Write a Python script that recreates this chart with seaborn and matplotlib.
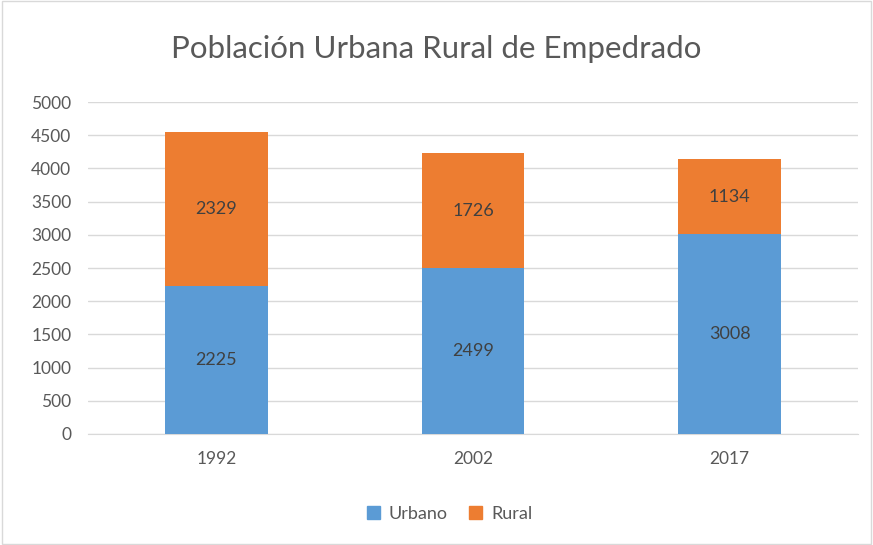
import numpy as np
import pandas as pd
import matplotlib
matplotlib.use("Agg")
import matplotlib.pyplot as plt
import seaborn as sns
from matplotlib.patches import Patch

# data
years = ["1992", "2002", "2017"]
urbano = [2225, 2499, 3008]
rural = [2329, 1726, 1134]

df = pd.DataFrame({"year": years, "Urbano": urbano, "Rural": rural})
df["total"] = df["Urbano"] + df["Rural"]

sns.set_style("white")
plt.rcParams["font.family"] = ["Lato", "DejaVu Sans"]

blue = "#5B9BD5"
orange = "#ED7D31"
txt = "#595959"

fig = plt.figure(figsize=(8.73, 5.45), dpi=100)
ax = fig.add_axes([0.1008, 0.2037, 0.882, 0.6091])

# stacked bars: total first (rural on top), urbano over it
sns.barplot(data=df, x="year", y="total", color=orange, width=0.4,
            saturation=1, linewidth=0, ax=ax, zorder=2)
sns.barplot(data=df, x="year", y="Urbano", color=blue, width=0.4,
            saturation=1, linewidth=0, ax=ax, zorder=3)

# value labels
for i in range(len(years)):
    ax.text(i, urbano[i] / 2, str(urbano[i]), ha="center", va="center",
            fontsize=13, color="#404040", zorder=4)
    ax.text(i, urbano[i] + rural[i] / 2, str(rural[i]), ha="center",
            va="center", fontsize=13, color="#404040", zorder=4)

ax.set_ylim(0, 5000)
ax.set_yticks(range(0, 5001, 500))
ax.yaxis.grid(True, color="#D9D9D9", linewidth=1, zorder=0)
ax.set_axisbelow(True)
ax.set_xlabel("")
ax.set_ylabel("")
for s in ["top", "right", "left"]:
    ax.spines[s].set_visible(False)
ax.spines["bottom"].set_color("#D9D9D9")
ax.tick_params(axis="both", labelsize=12.5, colors=txt, length=0, pad=12)
ax.tick_params(axis="x", pad=12)

fig.suptitle("Población Urbana Rural de Empedrado", y=0.935,
             fontsize=22.5, color=txt)

handles = [Patch(color=blue, label="Urbano"), Patch(color=orange, label="Rural")]
leg = fig.legend(handles=handles, loc="center", bbox_to_anchor=(0.515, 0.057),
                 ncol=2, frameon=False, fontsize=13, handlelength=0.7,
                 handleheight=0.7, columnspacing=1.2, handletextpad=0.5)
for t in leg.get_texts():
    t.set_color(txt)

# light border around chart area
fig.patches.append(plt.Rectangle((0.002, 0.002), 0.996, 0.996,
                                 transform=fig.transFigure, fill=False,
                                 edgecolor="#D9D9D9", linewidth=1))

fig.savefig("out.png", dpi=100)
